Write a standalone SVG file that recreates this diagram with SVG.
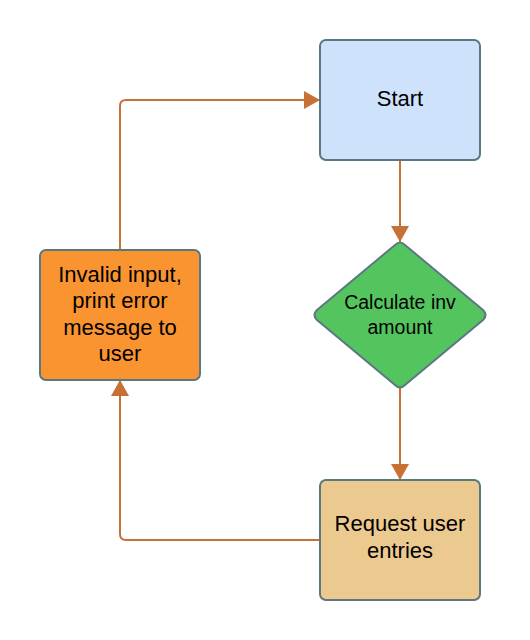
<svg xmlns="http://www.w3.org/2000/svg" width="530" height="640" viewBox="0 0 530 640">
<style>
.node{stroke:#5b7882;stroke-width:2}
.lbl{font-family:"Liberation Sans",Arial,sans-serif;font-size:22px;fill:#000;text-anchor:middle}
.sm{font-size:19.5px}
.edge{fill:none;stroke:#c87137;stroke-width:2}
</style>
<defs>
<marker id="arr" viewBox="0 0 16 18" refX="16" refY="9" markerWidth="16" markerHeight="18" markerUnits="userSpaceOnUse" orient="auto">
<path d="M0,0 L16,9 L0,18 Z" fill="#c87137"/>
</marker>
</defs>
<rect width="530" height="640" fill="#fff"/>
<g id="connectors">
<path class="edge" d="M400,160 V242" marker-end="url(#arr)"/>
<path class="edge" d="M400,388 V480" marker-end="url(#arr)"/>
<path class="edge" d="M320,540 H126 Q120,540 120,534 V380" marker-end="url(#arr)"/>
<path class="edge" d="M120,250 V106 Q120,100 126,100 H320" marker-end="url(#arr)"/>
</g>
<g id="start">
<rect class="node" x="320" y="40" width="160" height="120" rx="6" fill="#cfe2fc"/>
<text class="lbl" x="400" y="106">Start</text>
</g>
<g id="calc">
<path class="node" d="M395,245 Q400,240 405,245 L483,310 Q488,315 483,320 L405,385 Q400,390 395,385 L317,320 Q312,315 317,310 Z" fill="#54c45e"/>
<text class="lbl sm" x="400" y="308.5">Calculate inv</text>
<text class="lbl sm" x="400" y="333.5">amount</text>
</g>
<g id="invalid">
<rect class="node" x="40" y="250" width="160" height="130" rx="6" fill="#fa9431"/>
<text class="lbl" x="120" y="281.5">Invalid input,</text>
<text class="lbl" x="120" y="308">print error</text>
<text class="lbl" x="120" y="334.5">message to</text>
<text class="lbl" x="120" y="361">user</text>
</g>
<g id="request">
<rect class="node" x="320" y="480" width="160" height="120" rx="6" fill="#ecc98e"/>
<text class="lbl" x="400" y="531">Request user</text>
<text class="lbl" x="400" y="557.5">entries</text>
</g>
</svg>
